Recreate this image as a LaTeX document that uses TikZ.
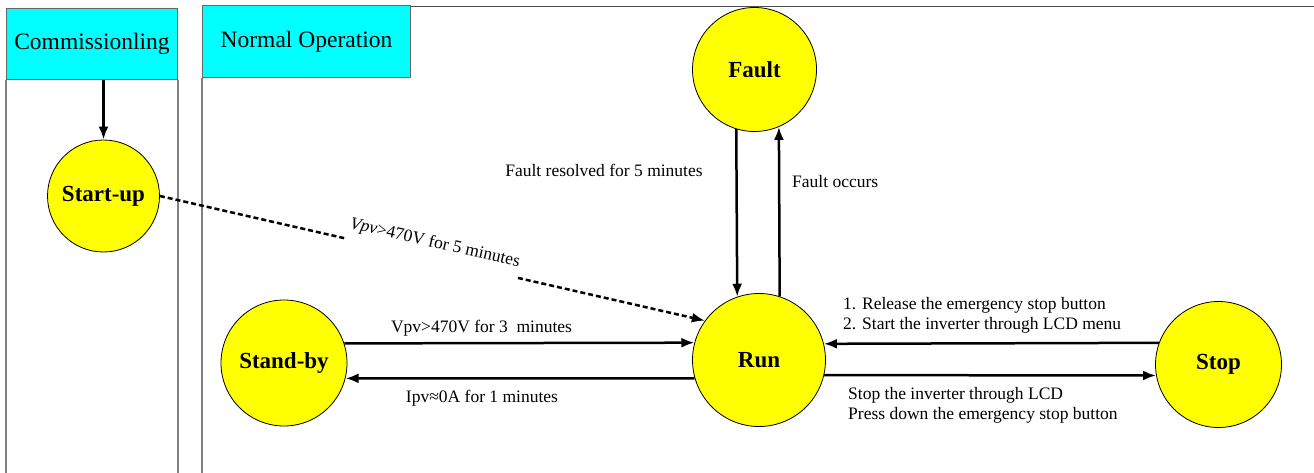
\documentclass[tikz,border=0pt]{standalone}
\usepackage{fontspec}
\setmainfont{Liberation Serif}
\usetikzlibrary{arrows.meta}
\usetikzlibrary{calc}
\definecolor{headcyan}{RGB}{0,255,255}
\definecolor{stateyellow}{RGB}{255,255,0}

\begin{document}
\begin{tikzpicture}[
	x = 1pt, y = -1pt,
	> = {Latex[length=13pt,width=10pt]},
	state/.style = {draw,circle,fill=stateyellow,line width=0.8pt,inner sep=0pt,font=\fontsize{23}{26}\selectfont\bfseries},
	lane/.style = {draw=gray,line width=1.5pt},
	header/.style = {draw=gray!80!black,fill=headcyan,line width=1pt,anchor=north west,font=\fontsize{23.5}{26}\selectfont},
	flow/.style = {->,line width=2.5pt},
	dotflow/.style = {line width=2.5pt,dash pattern=on 5pt off 3pt},
	note/.style = {inner sep=0pt,font=\fontsize{17.5}{20}\selectfont,align=left}
	]

	\useasboundingbox (0,0) rectangle (1314,473);

	% lanes
	\node[header,minimum width=171,minimum height=71] (comm) at (6,8) {Commissionling};
	\node[header,minimum width=208,minimum height=72] (normal) at (202,5) {Normal Operation};
	\draw[lane] (comm.south west) -- (comm.south west |- 0,473);
	\draw[lane] (comm.south east) -- (comm.south east |- 0,473);
	\draw[lane] (normal.south west) -- (normal.south west |- 0,473);
	\draw[gray!60!black,line width=0.8pt] (normal.north east) ++(0,1) -- (1314,6);

	% states
	\node[state,minimum size=112] (startup) at (103.5,196) {Start-up};
	\node[state,minimum size=124] (fault) at (754.5,69.5) {Fault};
	\node[state,minimum size=126] (standby) at (284,363) {Stand-by};
	\node[state,minimum size=133] (run) at (759,360) {Run};
	\node[state,minimum size=126] (stop) at (1218.5,364.5) {Stop};

	\draw[flow] (comm.south -| startup) -- (startup);

	\coordinate (gapA) at ($(startup.east)!0.34!(run.144)$);
	\coordinate (gapB) at ($(startup.east)!0.657!(run.144)$);
	\draw[dotflow] (startup.east) -- (gapA);
	\draw[dotflow,->] (gapB) -- (run.144);
	\path (gapA) -- node[note,sloped,above=7pt] {\textit{Vpv}>470V for 5 minutes} (gapB);

	\draw[flow] (fault.253.4) -- (run.109.2);
	\draw[flow] (run.72.6) -- (fault.293.1);
	\draw[flow] (standby.18.5) -- (run.165.3);
	\draw[flow] (run.196.5) -- (standby.-14.7);
	\draw[flow] (stop.160) -- (run.14.7);
	\draw[flow] (run.-13.8) -- (stop.190.5);

	\node[note] (resolved) at (604,170) {Fault resolved for 5 minutes};
	\node[note,anchor=west] (occurs) at (792,182) {Fault occurs};
	\node[note] (upthree) at (481.5,328) {Vpv>470V for 3\ \ minutes};
	\node[note] (downone) at (482,398) {Ipv≈0A for 1 minutes};
	\node[note,anchor=west] (restart) at (843,315) {1. Release the emergency stop button\\2. Start the inverter through LCD menu};
	\node[note,anchor=west] (halt) at (848,405) {Stop the inverter through LCD\\Press down the emergency stop button};

\end{tikzpicture}
\end{document}
